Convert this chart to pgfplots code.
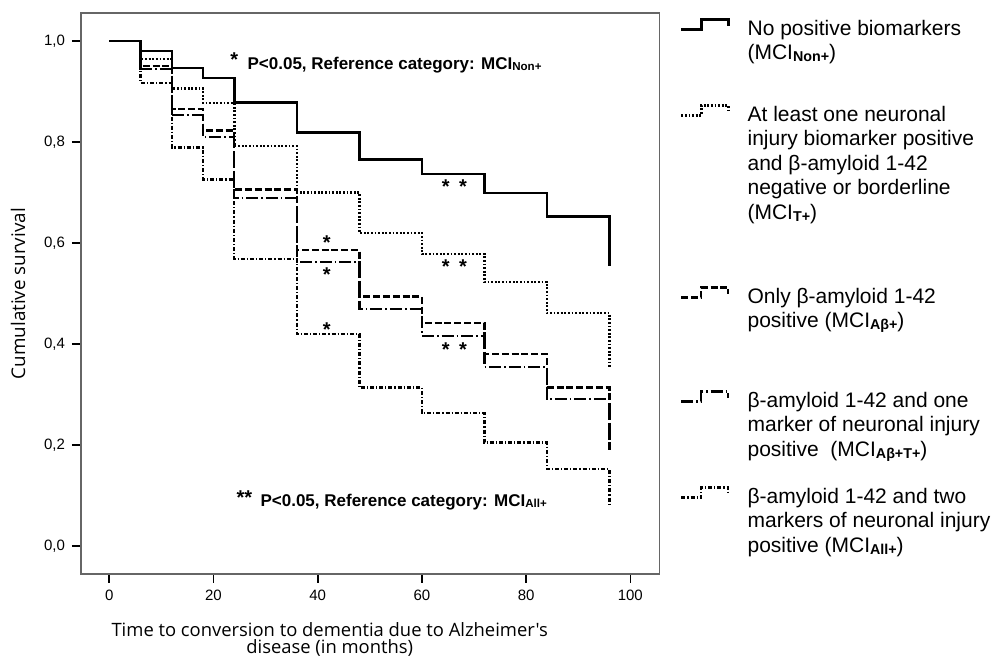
\documentclass[border=0pt]{standalone}
\usepackage{pgfplots}
\pgfplotsset{compat=1.18}
\usepackage{graphicx}
\usepackage{fontspec}
\setmainfont{Liberation Sans}
\newfontfamily\labelfont{Open Sans}
% small bold group tags set after "MCI"
\newcommand{\sub}[1]{\raisebox{-0.15ex}{\scalebox{0.68}{\bfseries #1}}}

\begin{document}
\begin{tikzpicture}[
  astr/.style={anchor=base, inner sep=0pt, yshift=-5.7pt,
               font=\fontsize{10}{10}\selectfont\bfseries},
  note/.style={anchor=base west, inner sep=0pt,
               font=\fontsize{8.5}{10}\selectfont\bfseries},
]
\begin{axis}[
  name=ax,
  scale only axis, width=289.25pt, height=280.35pt,
  xmin=-5.43, xmax=105.6, ymin=-0.0554, ymax=1.055,
  clip=false,
  axis line style={draw=black!60, line width=0.9pt},
  xtick={0,20,40,60,80,100},
  ytick={0,0.2,0.4,0.6,0.8,1.0},
  xtick pos=bottom, ytick pos=left, tick align=outside,
  major tick length=4.5pt,
  every tick/.style={black, line width=0.8pt},
  ticklabel style={font=\fontsize{7.5}{8}\selectfont},
  /pgf/number format/assume math mode=true,
  y tick label style={/pgf/number format/.cd, fixed, fixed zerofill, precision=1, use comma},
  xlabel={Time to conversion to dementia due to Alzheimer's\\disease (in months)},
  xlabel style={at={([yshift=-24pt]rel axis cs:0.43,0)}, anchor=north,
                align=center, inner sep=0pt,
                font=\labelfont\fontsize{9.2}{8.7}\selectfont},
  ylabel={Cumulative survival},
  ylabel style={at={([xshift=-31.5pt]rel axis cs:0,0.5)}, anchor=center,
                inner sep=0pt, font=\labelfont\fontsize{9.4}{9.4}\selectfont},
  legend style={at={(rel axis cs:1,1)}, anchor=north west,
                xshift=10.25pt, yshift=-1.1pt,
                draw=none, fill=none, inner sep=0pt, outer sep=0pt,
                row sep=0pt, column sep=9pt,
                nodes={inner sep=0pt, outer sep=0pt},
                cells={anchor=base west},
                font=\fontsize{10.5}{12.25}\selectfont},
  legend image code/.code={
    \path (0pt,0pt);
    \draw[#1] (0pt,3pt) -- (10pt,3pt) -- (10pt,8pt) -- (23.5pt,8pt) -- (23.5pt,4.5pt);
  },
]
% MCI Non+
\addplot[const plot, black, line width=1.3pt] coordinates {
  (0,1.000) (6,0.980) (12,0.947) (18,0.927) (24,0.878) (36,0.819)
  (48,0.766) (60,0.737) (72,0.699) (84,0.652) (96,0.555)};
\addlegendentry[text height=10pt, text depth=33pt]{\parbox[t]{70mm}{No positive biomarkers\\(MCI\sub{Non+})}}
% MCI T+
\addplot[const plot, black, line width=1.25pt, dash pattern=on 0.9pt off 0.9pt] coordinates {
  (0,1.000) (6,0.964) (12,0.906) (18,0.877) (24,0.792) (36,0.700)
  (48,0.620) (60,0.578) (72,0.523) (84,0.461) (96,0.351)};
\addlegendentry[text height=10pt, text depth=81pt]{\parbox[t]{70mm}{At least one neuronal\\injury biomarker positive\\and β-amyloid 1-42\\negative or borderline\\(MCI\sub{T+})}}
% MCI Abeta+
\addplot[const plot, black, line width=1.15pt, dash pattern=on 3.5pt off 1.4pt] coordinates {
  (0,1.000) (6,0.950) (12,0.865) (18,0.823) (24,0.706) (36,0.586)
  (48,0.494) (60,0.441) (72,0.380) (84,0.314) (96,0.190)};
\addlegendentry[text height=10pt, text depth=42pt]{\parbox[t]{70mm}{Only β-amyloid 1-42\\positive (MCI\sub{Aβ+})}}
% MCI Abeta+T+
\addplot[const plot, black, line width=1.15pt, dash pattern=on 6pt off 1.5pt on 0.8pt off 1.5pt] coordinates {
  (0,1.000) (6,0.945) (12,0.853) (18,0.810) (24,0.689) (36,0.563)
  (48,0.469) (60,0.416) (72,0.355) (84,0.291) (96,0.190)};
\addlegendentry[text height=10pt, text depth=38pt]{\parbox[t]{70mm}{β-amyloid 1-42 and one\\marker of neuronal injury\\positive\ \ (MCI\sub{Aβ+T+})}}
% MCI All+
\addplot[const plot, black, line width=1.15pt, dash pattern=on 2pt off 1pt on 0.6pt off 1pt] coordinates {
  (0,1.000) (6,0.917) (12,0.789) (18,0.726) (24,0.568) (36,0.420)
  (48,0.314) (60,0.263) (72,0.205) (84,0.152) (96,0.078)};
\addlegendentry[text height=10pt, text depth=26pt]{\parbox[t]{70mm}{β-amyloid 1-42 and two\\markers of neuronal injury\\positive (MCI\sub{All+})}}

% significance marks
\node[astr] at (axis cs:23.97,0.972) {*};
\node[note] at (axis cs:26.47,0.9446) {P<0.05, Reference category: MCI\sub{Non+}};
\node[astr] at (axis cs:64.6,0.7214) {*};
\node[astr] at (axis cs:67.87,0.7214) {*};
\node[astr] at (axis cs:64.6,0.5630) {*};
\node[astr] at (axis cs:67.87,0.5630) {*};
\node[astr] at (axis cs:41.73,0.6093) {*};
\node[astr] at (axis cs:41.73,0.5465) {*};
\node[astr] at (axis cs:41.73,0.4376) {*};
\node[astr] at (axis cs:64.6,0.3980) {*};
\node[astr] at (axis cs:67.87,0.3980) {*};
\node[astr] at (axis cs:25.95,0.1050) {**};
\node[note] at (axis cs:28.96,0.0792) {P<0.05, Reference category: MCI\sub{All+}};
\end{axis}
\pgfresetboundingbox
\useasboundingbox ([xshift=-40.5pt,yshift=-41.5pt]ax.south west) rectangle ([xshift=455pt,yshift=287pt]ax.south west);
\end{tikzpicture}
\end{document}
